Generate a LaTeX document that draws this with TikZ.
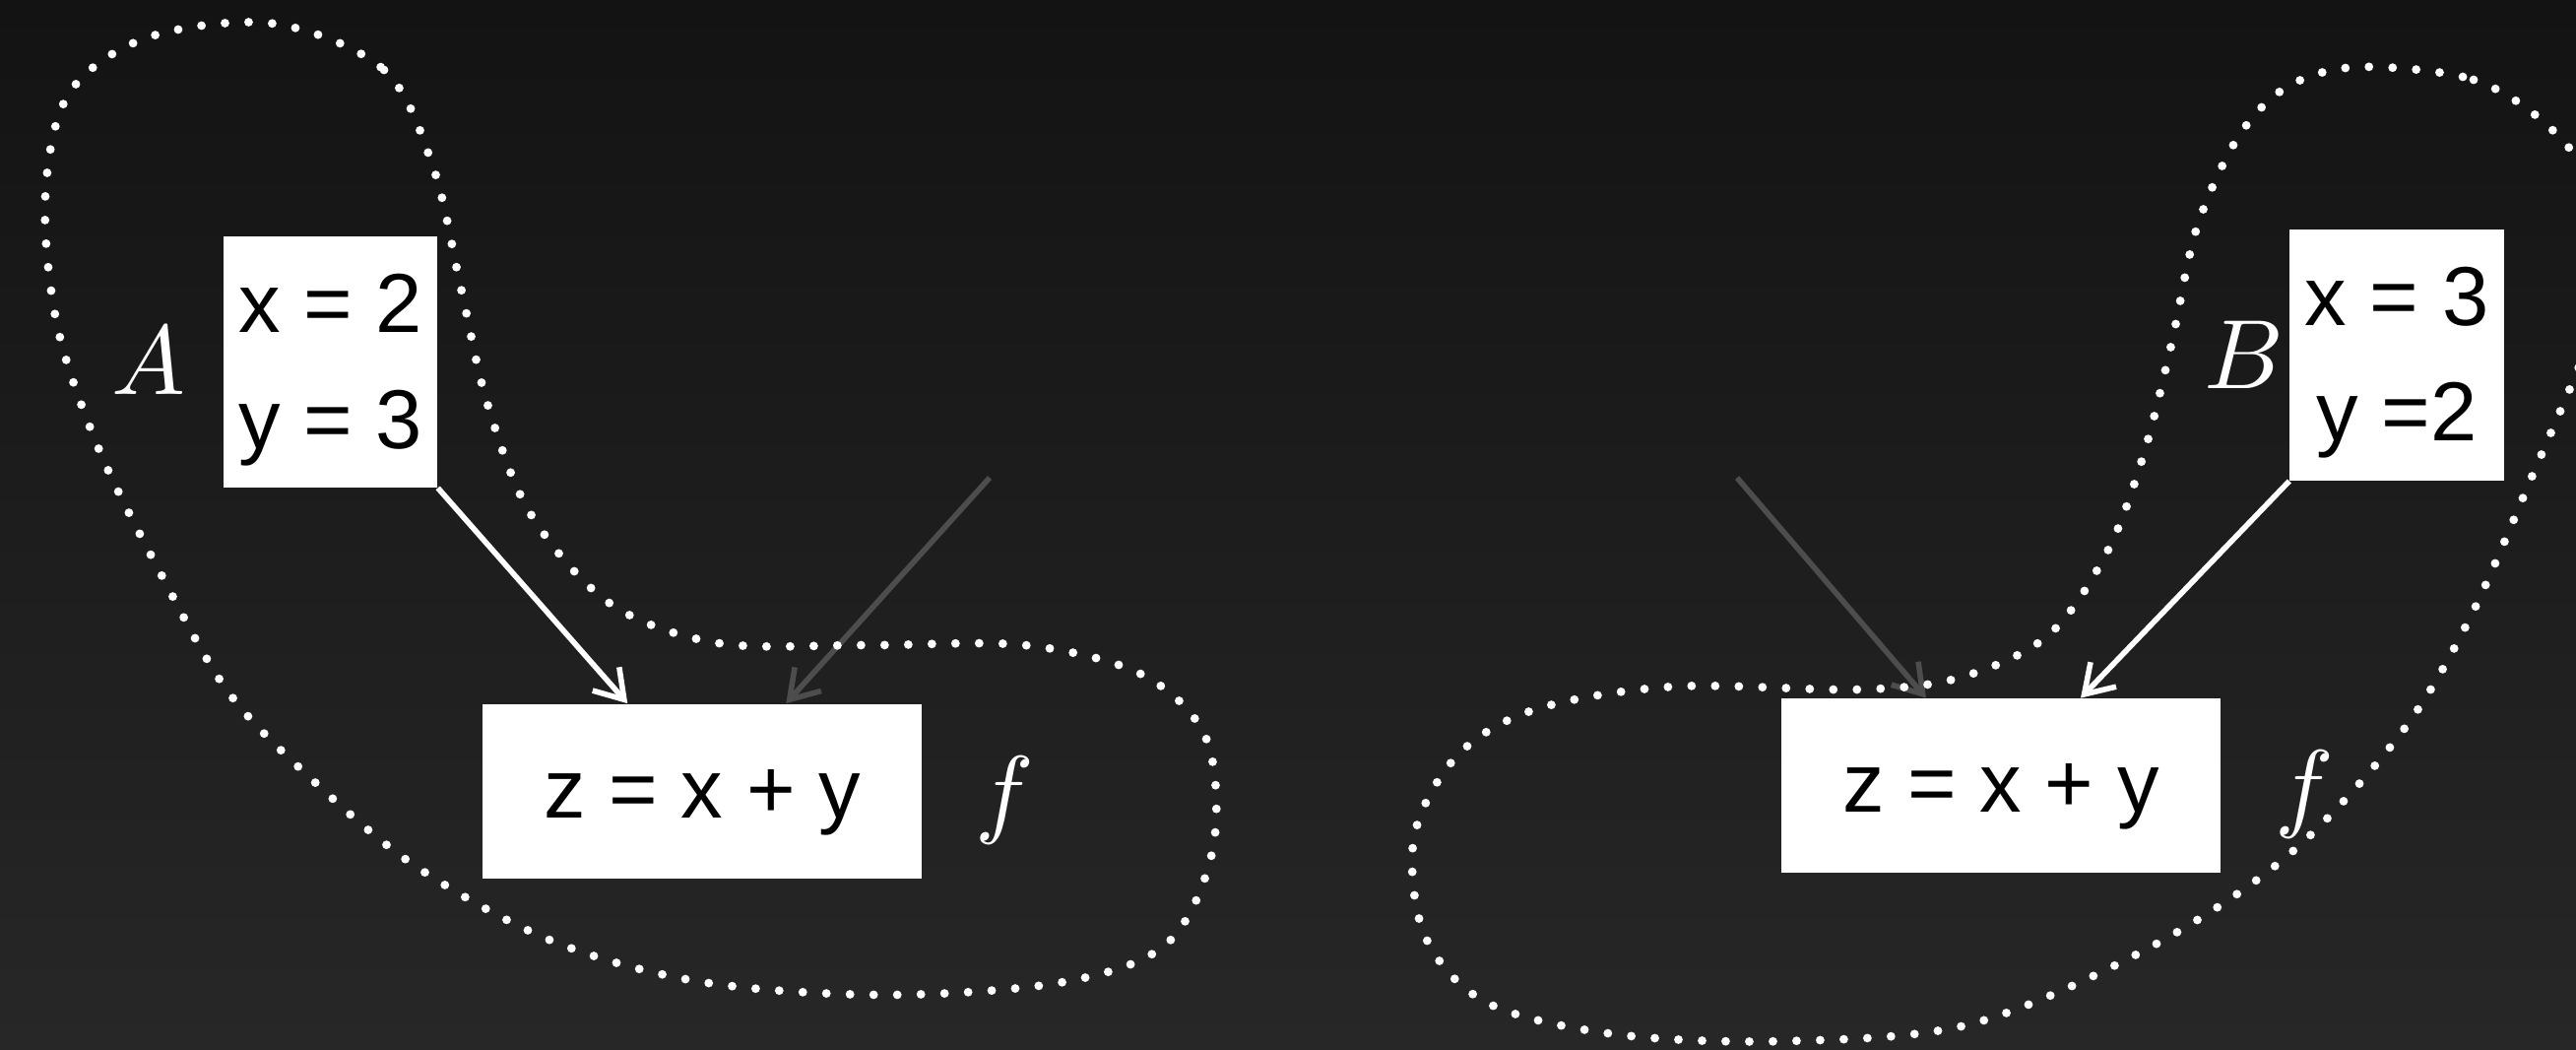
\documentclass[tikz,border=0pt]{standalone}
\usepackage{fontspec}
\setmainfont{Liberation Sans}
\usetikzlibrary{arrows.meta}

\definecolor{bgtop}{HTML}{131313}
\definecolor{bgbot}{HTML}{272727}
\definecolor{ghost}{HTML}{4D4D4D}

\tikzset{
  pairbox/.style={fill=white, draw=none, inner sep=0pt,
    minimum width=108.75pt, minimum height=127.5pt},
  sumbox/.style={fill=white, draw=none, inner sep=0pt,
    minimum width=223pt, minimum height=88.5pt},
  boxtext/.style={text=black, inner sep=0pt, anchor=base,
    font=\fontsize{42.5}{50}\selectfont},
  setlabel/.style={text=white, inner sep=0pt, font=\normalsize, scale=5},
  flow/.style={line width=2.8pt,
    -{Straight Barb[length=14pt,width=18pt,line width=2.8pt]}},
  liveedge/.style={flow, draw=white},
  ghostedge/.style={flow, draw=ghost},
  region/.style={draw=white, line width=4.4pt, line cap=round,
    dash pattern=on 0pt off 12pt},
}

\begin{document}
\begin{tikzpicture}[x=0.5pt, y=-0.5pt]
  % canvas
  \useasboundingbox (0,0) rectangle (2616,1065);
  \shade[top color=bgtop, bottom color=bgbot] (0,0) rectangle (2616,1065);

  % boxes
  \node[pairbox] (A) at (335.5,367.5) {};
  \node[boxtext] (Ax) at ([yshift=15.25pt]A.center) {x = 2};
  \node[boxtext] (Ay) at ([yshift=-43.75pt]A.center) {y = 3};

  \node[sumbox] (z1) at (713.25,803) {};
  \node[boxtext] (z1t) at ([yshift=-13.75pt]z1.center) {z = x + y};

  \node[pairbox] (B) at (2434,360.5) {};
  \node[boxtext] (Bx) at ([yshift=15.25pt]B.center) {x = 3};
  \node[boxtext] (By) at ([yshift=-43.5pt]B.center) {y =2};

  \node[sumbox] (z2) at (2032,797.5) {};
  \node[boxtext] (z2t) at ([yshift=-13.25pt]z2.center) {z = x + y};

  % set and function labels
  \node[setlabel] (labA) at (151,366) {$A$};
  \node[setlabel] (labB) at (2279,360) {$B$};
  \node[setlabel] (labf1) at (1020,812) {$f$};
  \node[setlabel] (labf2) at (2340,806) {$f$};

  % incoming edges
  \coordinate (g1) at (1005,485);
  \coordinate (g2) at (1764,485);
  \draw[ghostedge] (g1) -- ([xshift=42.5pt]z1.north);
  \draw[liveedge] (A.south east) -- ([xshift=-38pt]z1.north);
  \draw[ghostedge] (g2) -- ([xshift=-38pt]z2.north);
  \draw[liveedge] (B.south west) -- ([xshift=40.5pt]z2.north);

  % dotted regions
  \begin{scope}
    \clip (0,0) rectangle (2616,1065);
    \draw[region] plot[smooth cycle, tension=0.55] coordinates {
      (278,24) (390,71) (440,170) (468,292) (495,410) (539,522)
      (620,613) (730,653) (880,655) (1041,655) (1160,685) (1225,750)
      (1232,860) (1186,957) (1080,997) (900,1010) (713,997) (560,955)
      (420,878) (310,785) (230,700) (162,580) (100,455) (58,330)
      (46,200) (70,95) (150,38)};
    \draw[region] plot[smooth cycle, tension=0.55] coordinates {
      (2395,68) (2512,81) (2590,130) (2640,200) (2650,290) (2620,370)
      (2575,475) (2508,628) (2437,746) (2324,868) (2181,963) (2000,1040)
      (1812,1057) (1640,1050) (1510,1018) (1447,950) (1436,850) (1480,767)
      (1560,720) (1700,697) (1887,700) (1990,688) (2080,645) (2140,560)
      (2177,461) (2205,350) (2231,231) (2273,139) (2323,88)};
  \end{scope}
\end{tikzpicture}
\end{document}
